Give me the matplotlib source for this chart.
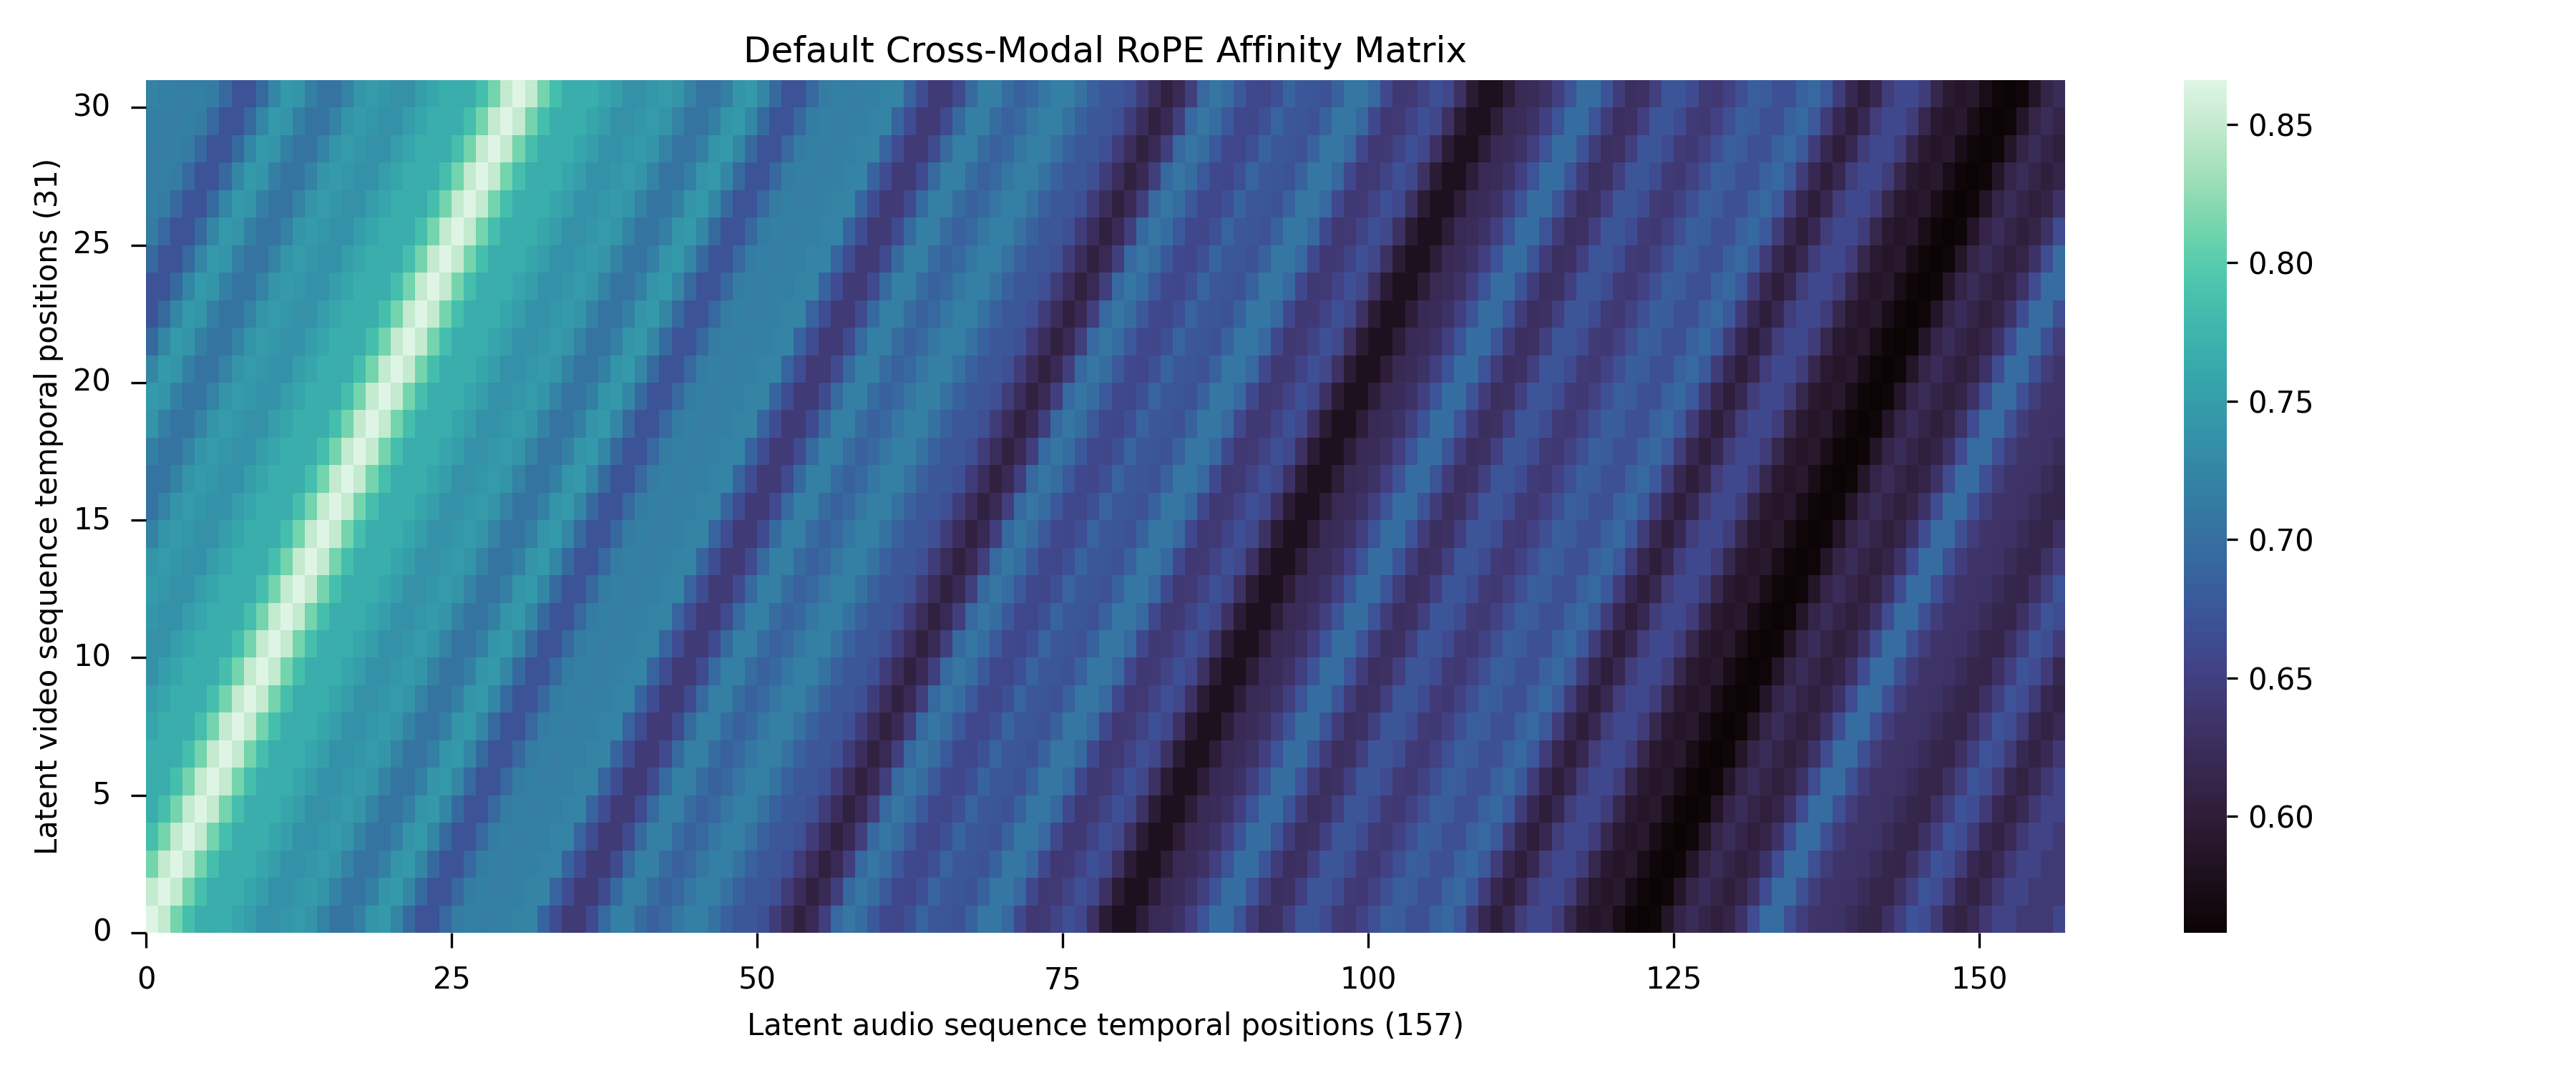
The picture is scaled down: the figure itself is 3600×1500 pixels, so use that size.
import numpy as np
import matplotlib
matplotlib.use("Agg")
import matplotlib.pyplot as plt
import seaborn as sns

# The left column reads the same, and every row up is the same profile moved one
# cell right, so the matrix is looked up from this by distance to the diagonal.
bottom_row = [
    0.866, 0.850, 0.812, 0.785, 0.767, 0.766, 0.768, 0.760, 0.750, 0.737,
    0.737, 0.743, 0.747, 0.740, 0.720, 0.705, 0.705, 0.718, 0.740, 0.745,
    0.725, 0.695, 0.672, 0.672, 0.692, 0.714, 0.717, 0.715, 0.716, 0.718,
    0.720, 0.722, 0.688, 0.665, 0.643, 0.643, 0.662, 0.695, 0.717, 0.716,
    0.697, 0.685, 0.692, 0.708, 0.718, 0.716, 0.703, 0.685, 0.675, 0.675,
    0.667, 0.645, 0.625, 0.605, 0.620, 0.648, 0.693, 0.708, 0.698, 0.676,
    0.660, 0.657, 0.668, 0.688, 0.675, 0.674, 0.671, 0.686, 0.708, 0.708,
    0.692, 0.660, 0.640, 0.642, 0.655, 0.668, 0.658, 0.630, 0.597, 0.580,
    0.580, 0.600, 0.620, 0.623, 0.632, 0.650, 0.672, 0.698, 0.698, 0.672,
    0.645, 0.627, 0.630, 0.650, 0.673, 0.673, 0.663, 0.643, 0.640, 0.652,
    0.667, 0.682, 0.680, 0.668, 0.668, 0.685, 0.693, 0.677, 0.645, 0.618,
    0.602, 0.618, 0.647, 0.660, 0.660, 0.645, 0.615, 0.595, 0.587, 0.592,
    0.574, 0.562, 0.558, 0.562, 0.587, 0.612, 0.622, 0.612, 0.603, 0.610,
    0.632, 0.665, 0.697, 0.697, 0.667, 0.647, 0.635, 0.633, 0.632, 0.624,
    0.614, 0.613, 0.630, 0.650, 0.672, 0.664, 0.643, 0.618, 0.608, 0.620,
    0.640, 0.655, 0.655, 0.642, 0.642, 0.642, 0.657,
]
n_video = 31
n_audio = 157
x_ticks = [0, 25, 50, 75, 100, 125, 150]
y_ticks = [0, 5, 10, 15, 20, 25, 30]

affinity = np.array([[bottom_row[abs(a - v)] for a in range(n_audio)] for v in range(n_video)])

W, H = 3600, 1500
fig = plt.figure(figsize=(12, 5), dpi=300)
ax = fig.add_axes([204 / W, 1 - 1304 / H, (2886 - 204) / W, (1304 - 112) / H])
cax = fig.add_axes([3052 / W, 1 - 1304 / H, 60 / W, (1304 - 112) / H])

sns.heatmap(affinity, cmap="mako", ax=ax, cbar_ax=cax)
ax.invert_yaxis()
ax.set_xticks(x_ticks)
ax.set_xticklabels(x_ticks, rotation=0)
ax.set_yticks(y_ticks)
ax.set_yticklabels(y_ticks, rotation=0)
ax.tick_params(axis="x", length=5, pad=5.9)
ax.tick_params(axis="y", length=5, pad=6.7)
ax.set_xlabel("Latent audio sequence temporal positions (157)", labelpad=5.4)
ax.set_ylabel("Latent video sequence temporal positions (31)", labelpad=3.2)
ax.set_title("Default Cross-Modal RoPE Affinity Matrix")

fig.savefig("out.png", dpi=300)
